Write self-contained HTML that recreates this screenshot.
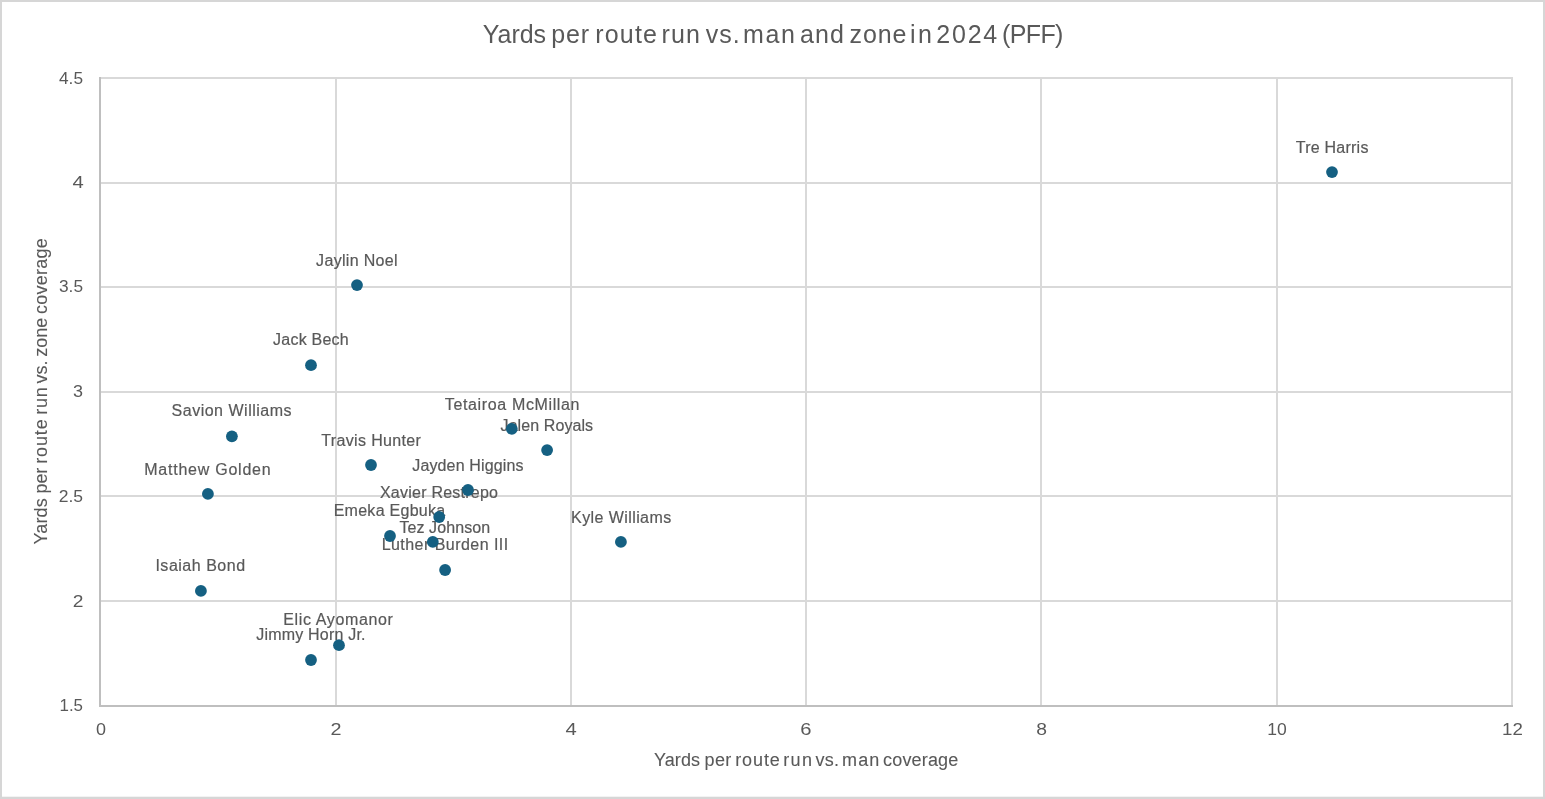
<!DOCTYPE html>
<html lang="en"><head><meta charset="utf-8"><title>Yards per route run</title>
<style>
html,body{margin:0;padding:0;background:#fff;}
body{width:1545px;height:799px;overflow:hidden;}
svg{display:block;will-change:transform;}
text{font-family:"Liberation Sans",sans-serif;fill:#595959;stroke:#595959;stroke-width:0.2px;}
text.k,text.t{stroke:none;}
text.a{stroke-width:0.1px;}
</style></head><body>
<svg width="1545" height="799" viewBox="0 0 1545 799">
<rect x="0" y="0" width="1545" height="799" fill="#ffffff"/>
<!-- chart border -->
<rect x="1" y="1" width="1543" height="797" fill="none" stroke="#d6d6d6" stroke-width="2"/>
<rect x="0" y="796.7" width="1545" height="2.3" fill="#d6d6d6"/>
<!-- gridlines -->
<line x1="100.00" x2="1513.00" y1="78.00" y2="78.00" stroke="#d9d9d9" stroke-width="2"/>
<line x1="100.00" x2="1513.00" y1="183.00" y2="183.00" stroke="#d9d9d9" stroke-width="2"/>
<line x1="100.00" x2="1513.00" y1="287.00" y2="287.00" stroke="#d9d9d9" stroke-width="2"/>
<line x1="100.00" x2="1513.00" y1="392.00" y2="392.00" stroke="#d9d9d9" stroke-width="2"/>
<line x1="100.00" x2="1513.00" y1="496.00" y2="496.00" stroke="#d9d9d9" stroke-width="2"/>
<line x1="100.00" x2="1513.00" y1="601.00" y2="601.00" stroke="#d9d9d9" stroke-width="2"/>
<line x1="336.00" x2="336.00" y1="77.00" y2="706.00" stroke="#d9d9d9" stroke-width="2"/>
<line x1="571.00" x2="571.00" y1="77.00" y2="706.00" stroke="#d9d9d9" stroke-width="2"/>
<line x1="806.00" x2="806.00" y1="77.00" y2="706.00" stroke="#d9d9d9" stroke-width="2"/>
<line x1="1041.00" x2="1041.00" y1="77.00" y2="706.00" stroke="#d9d9d9" stroke-width="2"/>
<line x1="1277.00" x2="1277.00" y1="77.00" y2="706.00" stroke="#d9d9d9" stroke-width="2"/>
<line x1="1512.00" x2="1512.00" y1="77.00" y2="706.00" stroke="#d9d9d9" stroke-width="2"/>
<!-- axes -->
<line x1="99.00" x2="1513.00" y1="706.00" y2="706.00" stroke="#bfbfbf" stroke-width="2"/>
<line x1="100.00" x2="100.00" y1="77.00" y2="707.00" stroke="#bfbfbf" stroke-width="2"/>
<!-- y axis title -->
<text id="y1" class="a" transform="translate(46.80 544.60) rotate(-90)" font-size="18" textLength="46.40" lengthAdjust="spacing">Yards</text>
<text id="y2" class="a" transform="translate(46.80 493.40) rotate(-90)" font-size="18" textLength="25.60" lengthAdjust="spacing">per</text>
<text id="y3" class="a" transform="translate(46.80 463.80) rotate(-90)" font-size="18" textLength="44.60" lengthAdjust="spacing">route</text>
<text id="y4" class="a" transform="translate(46.80 414.85) rotate(-90)" font-size="18" textLength="27.60" lengthAdjust="spacing">run</text>
<text id="y5" class="a" transform="translate(46.80 383.45) rotate(-90)" font-size="18" textLength="22.95" lengthAdjust="spacing">vs.</text>
<text id="y6" class="a" transform="translate(46.80 356.80) rotate(-90)" font-size="18" textLength="39.05" lengthAdjust="spacing">zone</text>
<text id="y7" class="a" transform="translate(46.80 313.90) rotate(-90)" font-size="18" textLength="75.70" lengthAdjust="spacing">coverage</text>
<!-- title, x axis title, data labels, tick labels -->
<text id="t1" class="t" x="482.70" y="42.70" font-size="25" textLength="63.35" lengthAdjust="spacing">Yards</text>
<text id="t2" class="t" x="551.25" y="42.70" font-size="25" textLength="37.80" lengthAdjust="spacing">per</text>
<text id="t3" class="t" x="595.20" y="42.70" font-size="25" textLength="61.80" lengthAdjust="spacing">route</text>
<text id="t4" class="t" x="661.60" y="42.70" font-size="25" textLength="38.30" lengthAdjust="spacing">run</text>
<text id="t5" class="t" x="705.75" y="42.70" font-size="25" textLength="33.85" lengthAdjust="spacing">vs.</text>
<text id="t6" class="t" x="743.10" y="42.70" font-size="25" textLength="51.85" lengthAdjust="spacing">man</text>
<text id="t7" class="t" x="800.10" y="42.70" font-size="25" textLength="43.75" lengthAdjust="spacing">and</text>
<text id="t8" class="t" x="849.55" y="42.70" font-size="25" textLength="56.75" lengthAdjust="spacing">zone</text>
<text id="t9" class="t" x="910.05" y="42.70" font-size="25" textLength="21.95" lengthAdjust="spacing">in</text>
<text id="t10" class="t" x="936.35" y="42.70" font-size="25" textLength="60.85" lengthAdjust="spacing">2024</text>
<text id="t11" class="t" x="1002.05" y="42.70" font-size="25" textLength="61.30" lengthAdjust="spacing">(PFF)</text>
<text id="x1" class="a" x="654.00" y="765.80" font-size="18" textLength="46.00" lengthAdjust="spacing">Yards</text>
<text id="x2" class="a" x="704.60" y="765.80" font-size="18" textLength="26.70" lengthAdjust="spacing">per</text>
<text id="x3" class="a" x="735.20" y="765.80" font-size="18" textLength="44.65" lengthAdjust="spacing">route</text>
<text id="x4" class="a" x="783.20" y="765.80" font-size="18" textLength="28.80" lengthAdjust="spacing">run</text>
<text id="x5" class="a" x="815.45" y="765.80" font-size="18" textLength="23.45" lengthAdjust="spacing">vs.</text>
<text id="x6" class="a" x="842.05" y="765.80" font-size="18" textLength="37.25" lengthAdjust="spacing">man</text>
<text id="x7" class="a" x="883.10" y="765.80" font-size="18" textLength="75.20" lengthAdjust="spacing">coverage</text>
<text id="l1" x="1295.80" y="152.90" font-size="16" textLength="72.60" lengthAdjust="spacing">Tre Harris</text>
<text id="l2" x="316.10" y="266.30" font-size="16" textLength="81.45" lengthAdjust="spacing">Jaylin Noel</text>
<text id="l3" x="273.10" y="345.10" font-size="16" textLength="75.55" lengthAdjust="spacing">Jack Bech</text>
<text id="l4" x="171.55" y="415.50" font-size="16" textLength="120.05" lengthAdjust="spacing">Savion Williams</text>
<text id="l5" x="444.80" y="409.50" font-size="16" textLength="134.70" lengthAdjust="spacing">Tetairoa McMillan</text>
<text id="l6" x="500.55" y="430.80" font-size="16" textLength="92.55" lengthAdjust="spacing">Jalen Royals</text>
<text id="l7" x="321.25" y="445.60" font-size="16" textLength="99.70" lengthAdjust="spacing">Travis Hunter</text>
<text id="l8" x="144.25" y="475.10" font-size="16" textLength="126.35" lengthAdjust="spacing">Matthew Golden</text>
<text id="l9" x="412.25" y="470.60" font-size="16" textLength="111.20" lengthAdjust="spacing">Jayden Higgins</text>
<text id="l10" x="379.90" y="497.60" font-size="16" textLength="118.10" lengthAdjust="spacing">Xavier Restrepo</text>
<text id="l11" x="333.65" y="516.40" font-size="16" textLength="111.55" lengthAdjust="spacing">Emeka Egbuka</text>
<text id="l12" x="399.40" y="532.70" font-size="16" textLength="90.75" lengthAdjust="spacing">Tez Johnson</text>
<text id="l13" x="571.10" y="522.70" font-size="16" textLength="100.05" lengthAdjust="spacing">Kyle Williams</text>
<text id="l14" x="381.65" y="550.10" font-size="16" textLength="126.50" lengthAdjust="spacing">Luther Burden III</text>
<text id="l15" x="155.40" y="570.60" font-size="16" textLength="89.70" lengthAdjust="spacing">Isaiah Bond</text>
<text id="l16" x="283.25" y="624.70" font-size="16" textLength="109.65" lengthAdjust="spacing">Elic Ayomanor</text>
<text id="l17" x="256.20" y="640.20" font-size="16" textLength="109.35" lengthAdjust="spacing">Jimmy Horn Jr.</text>
<text id="ky45" class="k" x="59.00" y="83.50" font-size="16" textLength="24.00" lengthAdjust="spacingAndGlyphs">4.5</text>
<text id="ky40" class="k" x="72.50" y="187.60" font-size="16" textLength="11.25" lengthAdjust="spacingAndGlyphs">4</text>
<text id="ky35" class="k" x="59.00" y="292.30" font-size="16" textLength="24.00" lengthAdjust="spacingAndGlyphs">3.5</text>
<text id="ky30" class="k" x="73.00" y="396.70" font-size="16" textLength="10.00" lengthAdjust="spacingAndGlyphs">3</text>
<text id="ky25" class="k" x="58.70" y="501.80" font-size="16" textLength="24.35" lengthAdjust="spacingAndGlyphs">2.5</text>
<text id="ky20" class="k" x="72.80" y="606.80" font-size="16" textLength="10.70" lengthAdjust="spacingAndGlyphs">2</text>
<text id="ky15" class="k" x="59.50" y="710.80" font-size="16" textLength="23.50" lengthAdjust="spacingAndGlyphs">1.5</text>
<text id="kx0" class="k" x="96.00" y="734.70" font-size="16" textLength="10.00" lengthAdjust="spacingAndGlyphs">0</text>
<text id="kx2" class="k" x="330.50" y="734.70" font-size="16" textLength="11.00" lengthAdjust="spacingAndGlyphs">2</text>
<text id="kx4" class="k" x="565.50" y="734.70" font-size="16" textLength="11.25" lengthAdjust="spacingAndGlyphs">4</text>
<text id="kx6" class="k" x="800.25" y="734.70" font-size="16" textLength="11.25" lengthAdjust="spacingAndGlyphs">6</text>
<text id="kx8" class="k" x="1036.25" y="734.70" font-size="16" textLength="10.75" lengthAdjust="spacingAndGlyphs">8</text>
<text id="kx10" class="k" x="1267.25" y="734.70" font-size="16" textLength="19.50" lengthAdjust="spacingAndGlyphs">10</text>
<text id="kx12" class="k" x="1502.00" y="734.70" font-size="16" textLength="20.75" lengthAdjust="spacingAndGlyphs">12</text>
<!-- markers -->
<circle cx="1332.00" cy="172.10" r="5.9" fill="#156082"/>
<circle cx="357.00" cy="285.10" r="5.9" fill="#156082"/>
<circle cx="311.00" cy="365.20" r="5.9" fill="#156082"/>
<circle cx="231.90" cy="436.30" r="5.9" fill="#156082"/>
<circle cx="511.80" cy="428.80" r="5.9" fill="#156082"/>
<circle cx="547.10" cy="450.10" r="5.9" fill="#156082"/>
<circle cx="371.00" cy="465.00" r="5.9" fill="#156082"/>
<circle cx="207.90" cy="493.90" r="5.9" fill="#156082"/>
<circle cx="468.00" cy="490.00" r="5.9" fill="#156082"/>
<circle cx="439.20" cy="517.00" r="5.9" fill="#156082"/>
<circle cx="390.00" cy="536.00" r="5.9" fill="#156082"/>
<circle cx="432.80" cy="541.90" r="5.9" fill="#156082"/>
<circle cx="620.90" cy="541.90" r="5.9" fill="#156082"/>
<circle cx="445.10" cy="570.00" r="5.9" fill="#156082"/>
<circle cx="200.90" cy="590.90" r="5.9" fill="#156082"/>
<circle cx="339.00" cy="645.20" r="5.9" fill="#156082"/>
<circle cx="311.00" cy="660.00" r="5.9" fill="#156082"/>
</svg>
</body></html>
